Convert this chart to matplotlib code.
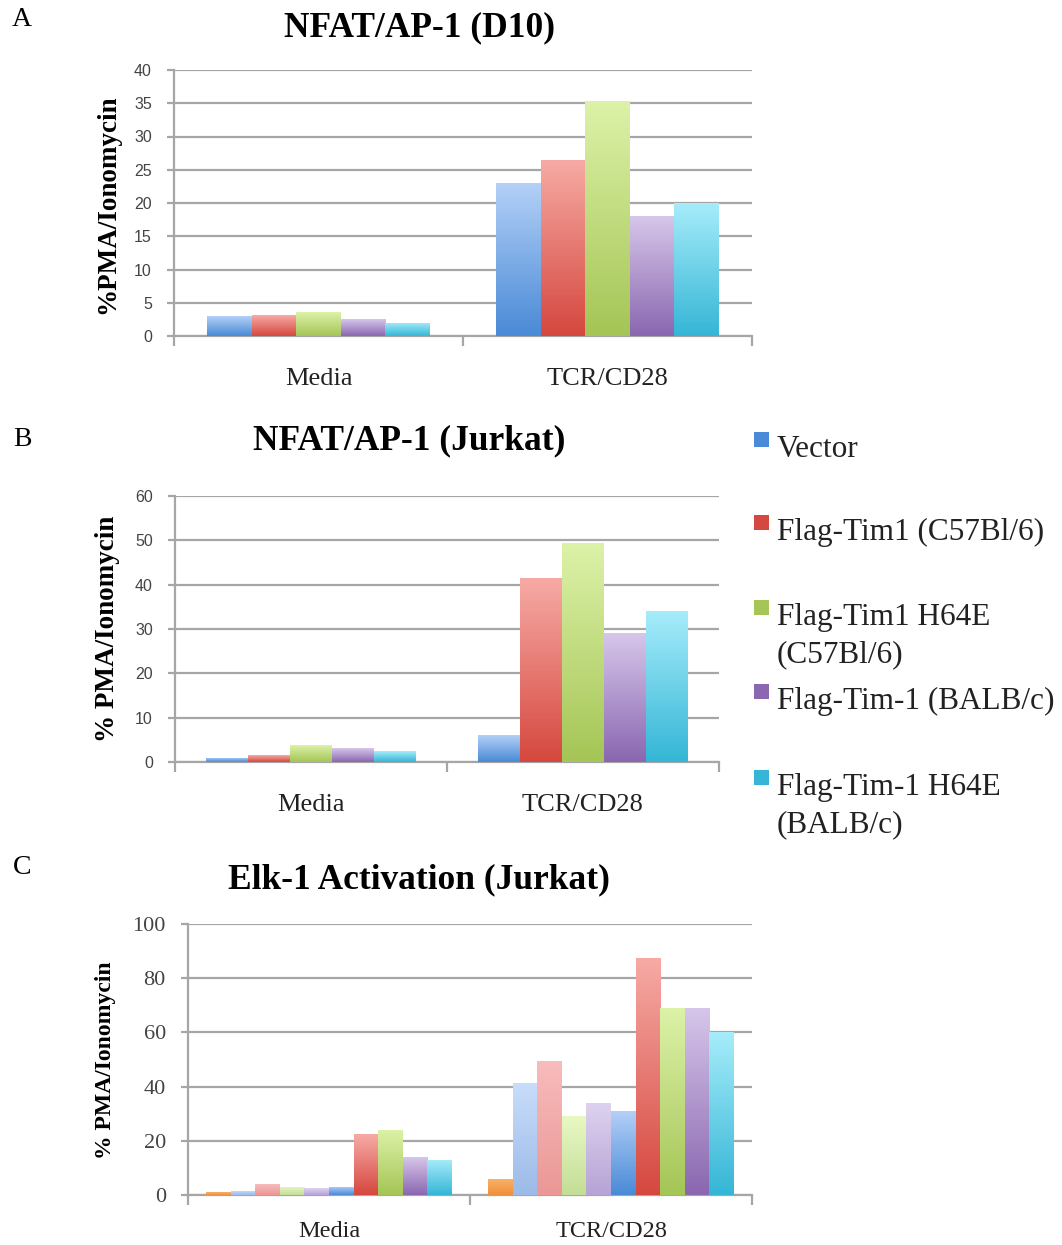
import matplotlib
matplotlib.use('Agg')
import matplotlib.pyplot as plt
from matplotlib.colors import LinearSegmentedColormap
from matplotlib.patches import Rectangle
import numpy as np

categories = ['Media', 'TCR/CD28']

# panel A - NFAT/AP-1 (D10)
a_vector = [3.0, 23.0]
a_tim1 = [3.1, 26.5]
a_tim1_h64e = [3.6, 35.3]
a_balb = [2.5, 18.0]
a_balb_h64e = [2.0, 20.0]

# panel B - NFAT/AP-1 (Jurkat)
b_vector = [1.0, 6.0]
b_tim1 = [1.5, 41.5]
b_tim1_h64e = [3.8, 49.3]
b_balb = [3.1, 29.0]
b_balb_h64e = [2.4, 34.0]

# panel C - Elk-1 activation (Jurkat), ten series
c_values = [
    [1.0, 6.0],
    [1.5, 41.5],
    [4.0, 49.5],
    [3.0, 29.0],
    [2.5, 34.0],
    [3.0, 31.0],
    [22.5, 87.5],
    [24.0, 69.0],
    [14.0, 69.0],
    [13.0, 60.0],
]

legend_labels = ['Vector', 'Flag-Tim1 (C57Bl/6)', 'Flag-Tim1 H64E\n(C57Bl/6)',
                 'Flag-Tim-1 (BALB/c)', 'Flag-Tim-1 H64E\n(BALB/c)']

BLUE = ('#b3d0f7', '#4a8ad6')
RED = ('#f7aaa5', '#d5483f')
GREEN = ('#dcf2a8', '#a5c556')
PURPLE = ('#d6c6ea', '#8a67b0')
CYAN = ('#a6ecfa', '#35b6d6')
five_colors = [BLUE, RED, GREEN, PURPLE, CYAN]
c_colors = [('#f9b26a', '#f0903a'), ('#c8ddfa', '#9cbbe8'), ('#f8bcbc', '#ea9896'),
            ('#e8f8c4', '#c3de96'), ('#ded2f0', '#b6a4d5')] + five_colors

GRID = '#a6a6a6'
SERIF = 'Liberation Serif'
SANS = 'Liberation Sans'
W, H = 1062, 1245


def grad_bars(ax, xs, heights, width, colors):
    bars = ax.bar(xs, heights, width, color='none', edgecolor='none', zorder=3)
    grad = np.linspace(1, 0, 100).reshape(-1, 1)
    cmap = LinearSegmentedColormap.from_list('g', [colors[1], colors[0]])
    for b in bars:
        x0 = b.get_x()
        h = b.get_height()
        im = ax.imshow(grad, cmap=cmap, extent=(x0, x0 + width, 0, h),
                       aspect='auto', zorder=3, interpolation='bicubic')
        im.set_clip_path(b)


def panel(ax, series, colors, span, ymax, ystep, tickfont, ticksize, tickpad, catsize, catpad):
    n = len(series)
    w = span / n
    x = np.arange(len(categories))
    for i, (vals, col) in enumerate(zip(series, colors)):
        grad_bars(ax, x - span / 2 + w * (i + 0.5), vals, w, col)
    ax.set_xlim(-0.5, len(categories) - 0.5)
    ax.set_ylim(0, ymax)
    ax.set_yticks(np.arange(0, ymax + 1, ystep))
    ax.yaxis.grid(True, color=GRID, linewidth=1.6, zorder=0)
    ax.set_axisbelow(True)
    for s in ['top', 'right']:
        ax.spines[s].set_visible(False)
    for s in ['left', 'bottom']:
        ax.spines[s].set_color(GRID)
        ax.spines[s].set_linewidth(1.6)
    ax.tick_params(axis='y', length=5, width=1.6, color=GRID, pad=tickpad)
    ax.set_xticks(x)
    ax.set_xticklabels(categories, family=SERIF, fontsize=catsize, color='#222222')
    ax.tick_params(axis='x', which='major', length=0, pad=catpad)
    ax.set_xticks(np.arange(-0.5, len(categories)), minor=True)
    ax.tick_params(axis='x', which='minor', length=7, width=1.6, color=GRID, direction='out')
    for t in ax.get_yticklabels():
        t.set_family(tickfont)
        t.set_fontsize(ticksize)
        t.set_color('#444444')


def fig_text(fig, x, y, s, **kw):
    return fig.text(x / W, 1 - y / H, s, **kw)


def draw():
    fig = plt.figure(figsize=(W / 100, H / 100), dpi=100)

    def box(l, r, t, b):
        return [l / W, 1 - b / H, (r - l) / W, (b - t) / H]

    ax_a = fig.add_axes(box(174, 752, 70, 336))
    panel(ax_a, [a_vector, a_tim1, a_tim1_h64e, a_balb, a_balb_h64e], five_colors,
          0.77, 40, 5, SANS, 11.5, 11, 19, 23)
    ax_b = fig.add_axes(box(175, 719, 496, 762))
    panel(ax_b, [b_vector, b_tim1, b_tim1_h64e, b_balb, b_balb_h64e], five_colors,
          0.77, 60, 10, SANS, 11.5, 11, 19, 23)
    ax_c = fig.add_axes(box(188, 752, 924, 1195))
    panel(ax_c, c_values, c_colors, 0.87, 100, 20, SERIF, 16, 11, 17.5, 19)

    # y labels
    fig_text(fig, 108, 204, '%PMA/Ionomycin', rotation=90, ha='center', va='center',
             family=SERIF, fontweight='bold', fontsize=19.5)
    fig_text(fig, 108, 629, '% PMA/Ionomycin', rotation=90, ha='center', va='center',
             family=SERIF, fontweight='bold', fontsize=19.5)
    fig_text(fig, 105, 1060, '% PMA/Ionomycin', rotation=90, ha='center', va='center',
             family=SERIF, fontweight='bold', fontsize=17)

    # titles and panel letters
    fig_text(fig, 420, 28, 'NFAT/AP-1 (D10)', ha='center', va='center',
             family=SERIF, fontweight='bold', fontsize=25.5)
    fig_text(fig, 409, 441, 'NFAT/AP-1 (Jurkat)', ha='center', va='center',
             family=SERIF, fontweight='bold', fontsize=25.5)
    fig_text(fig, 419, 880, 'Elk-1 Activation (Jurkat)', ha='center', va='center',
             family=SERIF, fontweight='bold', fontsize=25.5)
    for letter, y in [('A', 20), ('B', 440), ('C', 868)]:
        fig_text(fig, 22, y, letter, ha='center', va='center',
                 family=SERIF, fontsize=20)

    # shared legend on the right
    legend_base = [457, 540, 625, 709, 795]
    for lab, col, y in zip(legend_labels, five_colors, legend_base):
        fig.patches.append(Rectangle((754 / W, 1 - (y - 10) / H), 15 / W, 15 / H,
                                     transform=fig.transFigure, facecolor=col[1],
                                     edgecolor='none'))
        for k, line in enumerate(lab.split('\n')):
            fig_text(fig, 777, y + 37 * k, line, ha='left', va='baseline',
                     family=SERIF, fontsize=22.5, color='#222222')

    plt.savefig('out.png', dpi=100)


if __name__ == '__main__':
    draw()
